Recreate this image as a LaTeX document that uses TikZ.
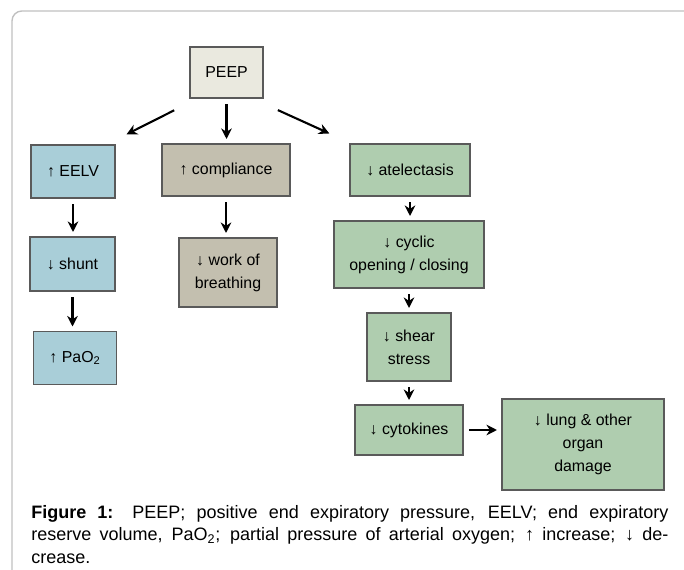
\documentclass[tikz,border=0pt]{standalone}
\usepackage{fontspec}
\setmainfont{Liberation Sans}
\usetikzlibrary{arrows.meta}

\definecolor{framegray}{HTML}{C0C0C0}
\definecolor{boxline}{HTML}{5A5A5A}
\definecolor{peepfill}{HTML}{EAE9DF}
\definecolor{bluefill}{HTML}{A9CED8}
\definecolor{taupefill}{HTML}{C3BFAF}
\definecolor{greenfill}{HTML}{AFCDAF}

\tikzset{
	box/.style={draw=boxline, line width=1.1pt, align=center, inner sep=0pt,
		font=\fontsize{11.3}{16.4}\selectfont},
	arr/.style={-{Stealth[length=7.5pt,width=7.5pt]}, line width=1.5pt,
		shorten <=4pt, shorten >=3pt}
}

\begin{document}
\begin{tikzpicture}[x=0.025cm, y=-0.025cm]
	\useasboundingbox (0,0) rectangle (684,570);
	\draw [framegray, line width=1pt, rounded corners=7pt] (12,600) -- (12,11) -- (700,11);

	\node [box, fill=peepfill, minimum width=1.825cm, minimum height=1.275cm] (peep) at (226.5,72.5) {PEEP};

	\node [box, fill=bluefill, minimum width=2.1cm, minimum height=1.325cm] (eelv) at (73,171.5) {↑ EELV};
	\node [box, fill=bluefill, minimum width=2.125cm, minimum height=1.35cm] (shunt) at (72.5,264) {↓ shunt};
	\node [box, fill=bluefill, minimum width=2.075cm, minimum height=1.325cm] (pao) at (75,358) {↑ PaO\textsubscript{2}};

	\node [box, fill=taupefill, minimum width=3.2cm, minimum height=1.3cm] (comp) at (226,170) {↑ compliance};
	\node [box, fill=taupefill, minimum width=2.45cm, minimum height=1.725cm] (work) at (228,272.5) {↓ work of\\breathing};

	\node [box, fill=greenfill, minimum width=3cm, minimum height=1.3cm] (atel) at (410,170) {↓ atelectasis};
	\node [box, fill=greenfill, minimum width=3.75cm, minimum height=1.675cm] (cyclic) at (409,254.5) {↓ cyclic\\opening / closing};
	\node [box, fill=greenfill, minimum width=2.1cm, minimum height=1.7cm] (shear) at (409,347) {↓ shear\\stress};
	\node [box, fill=greenfill, minimum width=2.7cm, minimum height=1.25cm] (cyto) at (409,430) {↓ cytokines};
	\node [box, fill=greenfill, minimum width=4.05cm, minimum height=2.275cm] (damage) at (583,444.5) {↓ lung \& other\\organ\\damage};

	\draw [arr] ([shift={(-10,9)}]peep.south west) -- ([shift={(7,-8)}]eelv.north east);
	\draw [arr] (peep.south) -- (peep.south |- comp.north);
	\draw [arr] ([shift={(9,9)}]peep.south east) -- ([shift={(-16,-8)}]atel.north west);
	\foreach \from/\to in {
		eelv/shunt, shunt/pao, comp/work, atel/cyclic, cyclic/shear, shear/cyto}
	\draw [arr] (\from.south) -- (\from.south |- \to.north);
	\draw [arr] (cyto.east) -- (cyto.east -| damage.west);

	\node [anchor=north west, inner sep=0pt, text width=15.925cm, align=justify,
		font=\fontsize{12.8}{16}\selectfont] (caption) at (31,505)
		{\textbf{Figure 1:} PEEP; positive end expiratory pressure, EELV; end expiratory\linebreak
		reserve volume, PaO\textsubscript{2}; partial pressure of arterial oxygen; ↑ increase; ↓ de-\linebreak
		crease.};
\end{tikzpicture}
\end{document}
